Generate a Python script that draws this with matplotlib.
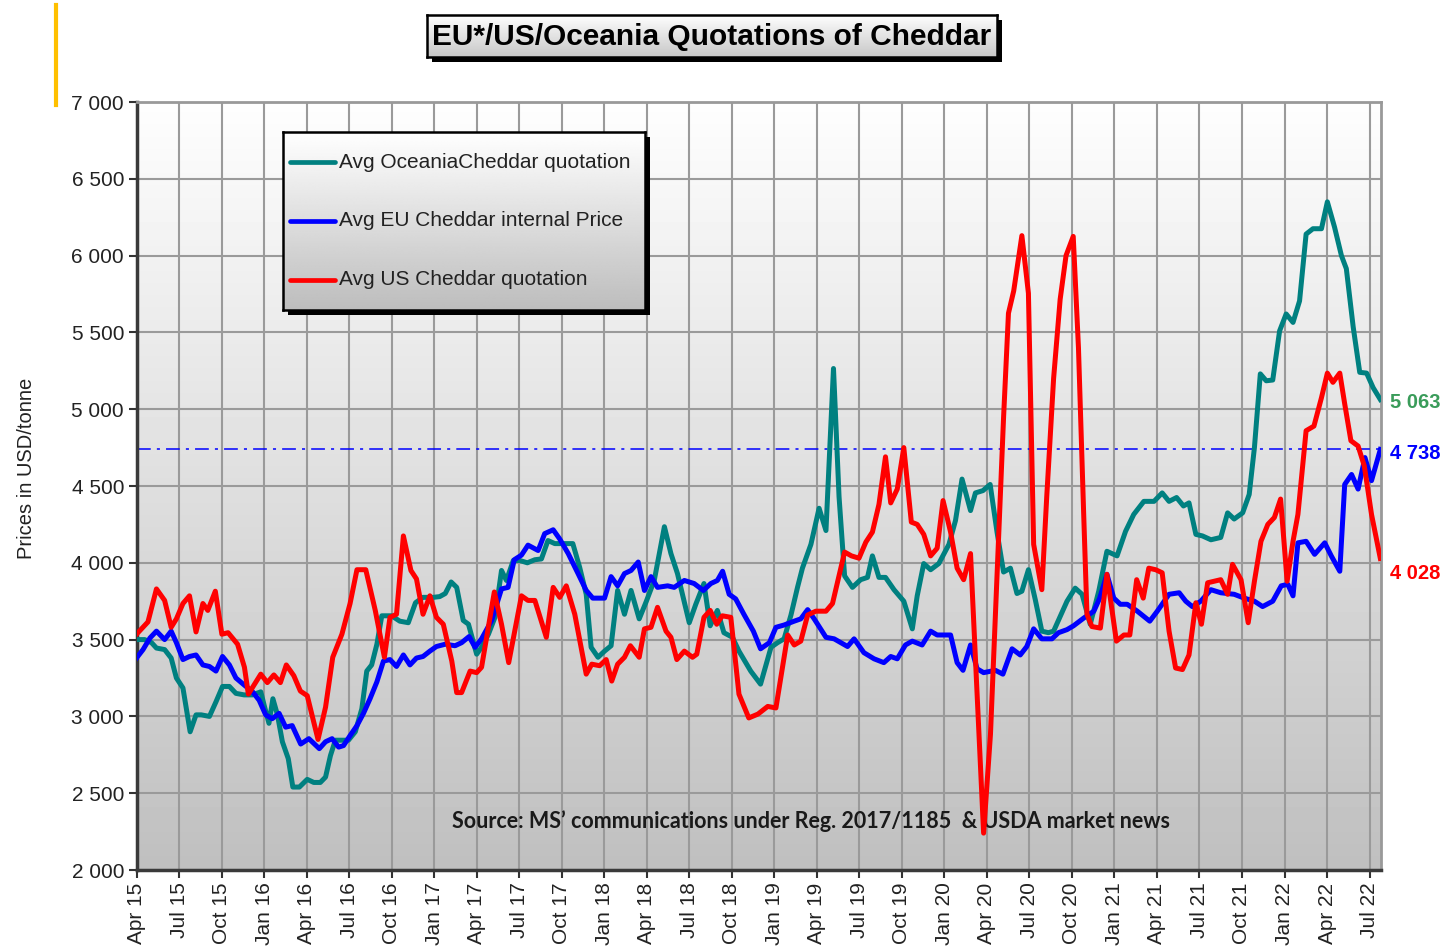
import numpy as np
import matplotlib.pyplot as plt
from matplotlib.patches import Rectangle
from matplotlib.lines import Line2D
from matplotlib.ticker import FuncFormatter, MultipleLocator

# x = week number, week 0 = start of Apr 2015 (13 weeks between the quarter ticks)
tick_labels = ['Apr 15', 'Jul 15', 'Oct 15', 'Jan 16', 'Apr 16', 'Jul 16', 'Oct 16', 'Jan 17',
               'Apr 17', 'Jul 17', 'Oct 17', 'Jan 18', 'Apr 18', 'Jul 18', 'Oct 18', 'Jan 19',
               'Apr 19', 'Jul 19', 'Oct 19', 'Jan 20', 'Apr 20', 'Jul 20', 'Oct 20', 'Jan 21',
               'Apr 21', 'Jul 21', 'Oct 21', 'Jan 22', 'Apr 22', 'Jul 22']
weeks_per_tick = 13
last_week = 380.5

# Avg Oceania Cheddar quotation (USD/t)
oceania = [(0, 3500), (2.5, 3500), (4.6, 3480), (6.1, 3445), (8.6, 3435), (10.6, 3380), (12.2, 3250),
           (14.2, 3185), (16.4, 2900), (18.2, 3010), (19.8, 3010), (22.3, 3000), (24.3, 3095), (26.3, 3195),
           (28.4, 3195), (30.4, 3150), (32.9, 3140), (35.5, 3140), (38, 3160), (39, 3075), (40.5, 2955),
           (41.7, 3115), (43.1, 3010), (44.6, 2835), (46.4, 2725), (47.8, 2540), (49.8, 2540), (52.2, 2590),
           (54.2, 2570), (56.2, 2570), (57.8, 2605), (59.3, 2745), (60.8, 2845), (62.8, 2845), (64.8, 2845),
           (66.9, 2900), (68.9, 3050), (70.4, 3295), (71.9, 3335), (73.5, 3470), (75, 3655), (78, 3655),
           (80.5, 3620), (83.1, 3610), (85.3, 3740), (87.6, 3775), (90.7, 3775), (92.7, 3780), (94.4, 3800),
           (96.2, 3875), (97.9, 3840), (99.9, 3625), (101.5, 3600), (104, 3405), (105.5, 3450), (107.6, 3535),
           (109.6, 3645), (111.6, 3950), (113.1, 3885), (115.2, 4015), (117.2, 4015), (119.5, 4000),
           (121.8, 4020), (123.8, 4025), (125.8, 4145), (127.9, 4125), (130.9, 4125), (133.4, 4125),
           (135.5, 3970), (137.5, 3795), (139, 3450), (141.1, 3385), (143.1, 3425), (145.1, 3460),
           (147.1, 3820), (149.2, 3665), (151.2, 3820), (153.7, 3635), (155.8, 3745), (158.3, 3885),
           (161.4, 4235), (163.4, 4060), (165.4, 3930), (169, 3610), (171, 3730), (173.5, 3865), (175.4, 3590),
           (177.6, 3690), (179.6, 3545), (182.2, 3515), (184.2, 3425), (187.8, 3295), (190.8, 3210),
           (194, 3450), (196, 3480), (198, 3505), (200.1, 3660), (202.1, 3840), (203.6, 3965), (206.2, 4120),
           (208.7, 4355), (210.8, 4210), (213.1, 5265), (214.8, 4430), (216.5, 3915), (218.9, 3840),
           (221.4, 3890), (223.5, 3905), (225, 4045), (227, 3905), (229, 3905), (231.6, 3825), (234.6, 3750),
           (237.2, 3570), (238.7, 3785), (240.7, 3995), (242.8, 3955), (245.3, 3995), (248.4, 4120),
           (250.4, 4275), (252.4, 4545), (255, 4340), (256.5, 4455), (258.8, 4470), (261, 4510), (263.1, 4200),
           (265.1, 3940), (267.2, 3965), (269.2, 3800), (270.7, 3815), (272.7, 3955), (274.8, 3760),
           (276.8, 3555), (278.8, 3545), (280.4, 3555), (282.4, 3650), (284.5, 3750), (287, 3835), (289.1, 3795),
           (291.6, 3600), (294.2, 3815), (296.7, 4075), (299.8, 4045), (302.4, 4205), (304.9, 4315), (308, 4400),
           (311.1, 4400), (313.6, 4455), (315.7, 4400), (318, 4425), (320.1, 4370), (321.8, 4390), (323.9, 4185),
           (325.9, 4175), (328.5, 4150), (331.5, 4165), (333.6, 4325), (335.6, 4285), (338.2, 4325),
           (340.2, 4445), (341.8, 4750), (343.6, 5230), (345.4, 5185), (347.4, 5190), (349.5, 5510),
           (351.5, 5620), (353.6, 5565), (355.6, 5705), (357.6, 6140), (359.7, 6175), (362.3, 6175),
           (364.1, 6350), (366.3, 6185), (368.4, 6000), (369.9, 5915), (372, 5535), (374, 5240), (376.1, 5235),
           (378.1, 5140), (380.3, 5063)]

# Avg EU Cheddar internal price (USD/t)
eu = [(0, 3380), (2, 3435), (4.1, 3510), (6.1, 3555), (8.6, 3500), (10.6, 3555), (12.2, 3480), (14.2, 3370),
      (16.2, 3390), (18.2, 3400), (20.3, 3335), (22.3, 3325), (24.3, 3295), (26.3, 3390), (28.4, 3335),
      (30.4, 3250), (32.9, 3205), (35.5, 3160), (37.5, 3105), (39.5, 3010), (41.5, 2985), (43.6, 3020),
      (45.6, 2930), (47.6, 2940), (50.2, 2820), (52.7, 2855), (55.9, 2790), (57.8, 2835), (59.8, 2855),
      (61.8, 2800), (63.3, 2810), (65.3, 2875), (67.4, 2940), (69.4, 3020), (71.4, 3115), (73.5, 3225),
      (75.5, 3360), (77.5, 3370), (79.5, 3325), (81.6, 3400), (83.6, 3335), (85.6, 3380), (87.6, 3390),
      (89.7, 3425), (91.7, 3455), (94.4, 3470), (97.4, 3460), (99.4, 3480), (101.7, 3520), (103.5, 3450),
      (105.5, 3505), (108.6, 3625), (111.6, 3830), (113.6, 3840), (115.5, 4020), (117.7, 4050), (119.7, 4115),
      (122.8, 4080), (124.8, 4190), (127.4, 4215), (129.4, 4155), (132, 4060), (135, 3930), (137.5, 3820),
      (139.5, 3770), (143.1, 3770), (145.1, 3910), (147.1, 3850), (149.2, 3930), (151.2, 3950), (153.4, 4005),
      (155.3, 3820), (157.3, 3910), (159.3, 3840), (162.4, 3850), (164.4, 3840), (167.5, 3885), (170.5, 3865),
      (173.3, 3820), (175.6, 3865), (177.6, 3885), (179.2, 3945), (181.2, 3795), (183.2, 3765), (185.7, 3665),
      (188.6, 3555), (190.8, 3440), (193.5, 3480), (195.5, 3580), (198, 3595), (201.1, 3620), (203.1, 3635),
      (205.2, 3695), (207.2, 3635), (210.8, 3515), (213.3, 3505), (217.4, 3455), (219.4, 3505), (222.4, 3415),
      (225.5, 3375), (228.5, 3350), (230.6, 3390), (232.6, 3375), (235.1, 3465), (237.2, 3490), (240.2, 3465),
      (242.8, 3555), (244.8, 3530), (248.9, 3530), (250.9, 3350), (252.7, 3300), (255, 3465), (257, 3310),
      (259, 3285), (262.6, 3300), (264.9, 3275), (267.7, 3440), (270.2, 3400), (272.2, 3455), (274.3, 3570),
      (276.8, 3505), (279.9, 3505), (281.9, 3545), (284.5, 3565), (286.5, 3590), (289.6, 3640), (292.7, 3685),
      (294.5, 3770), (296.7, 3925), (298.8, 3770), (300.8, 3730), (302.9, 3730), (306, 3685), (309.8, 3620),
      (312.1, 3685), (315.7, 3795), (318.8, 3805), (320.8, 3750), (322.8, 3715), (325.4, 3750), (328.5, 3825),
      (331.5, 3805), (335.6, 3795), (338.7, 3770), (341.8, 3750), (344.3, 3715), (347.4, 3750), (350, 3850),
      (352, 3860), (353.6, 3785), (355.1, 4130), (357.6, 4140), (360.2, 4055), (363.3, 4130), (365.3, 4045),
      (367.9, 3945), (369.4, 4510), (371.5, 4575), (373.5, 4480), (375.6, 4685), (377.6, 4535), (380.3, 4738)]

# Avg US Cheddar quotation (USD/t)
us = [(0, 3535), (3.5, 3615), (6.1, 3830), (8.6, 3755), (10.6, 3580), (12.2, 3635), (14.2, 3735), (16.2, 3785),
      (18.2, 3550), (20.3, 3735), (21.8, 3690), (24.1, 3815), (26.1, 3535), (28, 3545), (30.9, 3470),
      (33, 3320), (34.2, 3145), (38, 3275), (40, 3220), (42, 3270), (44, 3220), (45.8, 3335), (48.1, 3265),
      (50.1, 3165), (52.2, 3135), (55.5, 2850), (57.8, 3060), (60, 3385), (62.8, 3535), (65.3, 3735),
      (67.4, 3955), (70.1, 3955), (73, 3690), (75.8, 3385), (77.5, 3645), (79.5, 3665), (81.6, 4175),
      (83.9, 3950), (85.6, 3895), (87.6, 3665), (89.7, 3785), (91.7, 3645), (93.8, 3600), (96.4, 3360),
      (97.9, 3155), (99.4, 3155), (102, 3295), (104, 3285), (105.5, 3320), (109.4, 3810), (111.6, 3600),
      (113.8, 3350), (117.7, 3785), (119.7, 3755), (121.8, 3755), (125.3, 3515), (127.4, 3840), (129.4, 3775),
      (131.4, 3850), (134, 3665), (137.5, 3275), (139.2, 3340), (141.6, 3330), (143.6, 3370), (145.3, 3230),
      (147.1, 3340), (149.2, 3385), (151, 3460), (153.7, 3385), (155.3, 3570), (157.3, 3580), (159.3, 3710),
      (161.9, 3555), (163.4, 3515), (165.2, 3370), (167.5, 3425), (170, 3385), (171.3, 3405), (173.5, 3645),
      (175.4, 3690), (177.4, 3600), (179.1, 3655), (181.7, 3645), (184.2, 3145), (187.2, 2990), (190, 3015),
      (193, 3065), (195.5, 3055), (199.1, 3530), (201.1, 3465), (203.1, 3490), (205.2, 3660), (207.7, 3685),
      (210.8, 3685), (212.8, 3735), (214.8, 3915), (216.5, 4070), (218.6, 4045), (220.9, 4030), (223, 4135),
      (225, 4200), (227, 4380), (229, 4690), (230.6, 4390), (232.6, 4480), (234.6, 4750), (236.9, 4265),
      (238.7, 4250), (240.7, 4185), (242.8, 4045), (244.8, 4095), (246.6, 4405), (248.9, 4200), (250.9, 3965),
      (252.9, 3890), (255, 4060), (257, 3145), (259, 2240), (261.1, 2885), (263.1, 3915), (265.1, 4945),
      (266.6, 5625), (268.2, 5770), (270.7, 6130), (272.7, 5755), (274.3, 4120), (276.8, 3825), (278.3, 4430),
      (280.4, 5200), (282.4, 5715), (284.2, 6000), (286.4, 6125), (288, 5400), (289.6, 4315), (290.6, 3665),
      (292.1, 3585), (294.7, 3575), (296.7, 3925), (299.6, 3490), (301.9, 3530), (303.7, 3530), (305.8, 3890),
      (307.8, 3770), (309.5, 3965), (311.6, 3955), (313.6, 3935), (315.7, 3555), (317.7, 3315), (319.8, 3305),
      (321.8, 3400), (323.9, 3740), (325.6, 3600), (327.5, 3870), (329.5, 3880), (331.5, 3890), (333.6, 3795),
      (335.1, 3990), (337.7, 3890), (339.9, 3610), (341.8, 3880), (343.8, 4140), (345.9, 4250), (347.9, 4295),
      (349.8, 4415), (351.8, 3880), (353.6, 4140), (355.1, 4315), (357.6, 4860), (360, 4890), (362.3, 5075),
      (364.1, 5235), (365.8, 5175), (367.9, 5235), (369.4, 5035), (371.3, 4795), (373.5, 4760), (375.4, 4630),
      (377.6, 4315), (380.3, 4028)]

series_names = ['Avg OceaniaCheddar quotation', 'Avg EU Cheddar internal Price', 'Avg US Cheddar quotation']
series_colors = ['#008080', '#0000FF', '#FF0000']

W, H = 1451, 951


def px_rect(x0, y0, x1, y1):
    """pixel box (top-left origin) -> figure fraction [left, bottom, width, height]"""
    return [x0 / W, 1 - y1 / H, (x1 - x0) / W, (y1 - y0) / H]


def gradient_fill(a, top, bottom, extent):
    grad = np.linspace(top, bottom, 256).reshape(-1, 1)
    a.imshow(grad, cmap='gray', vmin=0, vmax=1, aspect='auto', extent=extent,
             origin='upper', zorder=-1, interpolation='bilinear')


def thousands(v, pos=None):
    return f'{int(v):,}'.replace(',', ' ')


plt.rcParams['font.family'] = ['Liberation Sans', 'DejaVu Sans']
fig = plt.figure(figsize=(W / 100, H / 100), dpi=100)
ax = fig.add_axes(px_rect(136.5, 102, 1381, 870))

gradient_fill(ax, 0.995, 0.75, [0, last_week, 2000, 7000])

for data, col in zip([oceania, eu, us], series_colors):
    wk, val = zip(*data)
    ax.plot(wk, val, color=col, lw=3.6, solid_joinstyle='round', zorder=3)

# reference line at the latest EU price
eu_last = eu[-1][1]
ax.axhline(eu_last, color='#0000FF', lw=1.1, ls=(0, (9, 4, 2, 4)), zorder=2)

ax.set_xlim(0, last_week)
ax.set_ylim(2000, 7000)
ax.set_xticks(np.arange(len(tick_labels)) * weeks_per_tick)
ax.set_xticklabels(tick_labels, rotation=90)
ax.yaxis.set_major_locator(MultipleLocator(500))
ax.yaxis.set_major_formatter(FuncFormatter(thousands))
ax.tick_params(axis='both', direction='out', length=6, width=1.5, color='#333333',
               labelsize=15, labelcolor='#222222', pad=3)
ax.grid(True, color='#9a9a9a', lw=1.5)
ax.set_axisbelow(True)
for side in ['left', 'bottom']:
    ax.spines[side].set_color('#3a3a3a')
    ax.spines[side].set_linewidth(2.5)
for side in ['top', 'right']:
    ax.spines[side].set_color('#999999')
    ax.spines[side].set_linewidth(2)

ax.set_ylabel('Prices in USD/tonne', fontsize=14.5, color='#222222')
ax.yaxis.set_label_coords(-0.081, 0.523)

# source note sits under the series lines
ax.text(0.542, 0.064, 'Source: MS\u2019 communications under Reg. 2017/1185  & USDA market news',
        transform=ax.transAxes, ha='center', va='center', fontsize=15.5, fontweight='bold',
        family=['Lato', 'DejaVu Sans'], color='#1a1a1a', zorder=2.5)

# latest values at the right edge
end_labels = [(oceania[-1][1], '#3a9c5a', -2), (eu_last, '#0000FF', -3), (us[-1][1], '#FF0000', -10.5)]
for val, col, dy in end_labels:
    ax.annotate(thousands(val), xy=(1.0, val), xycoords=('axes fraction', 'data'),
                xytext=(6.5, dy), textcoords='offset points', ha='left', va='center',
                fontsize=14.5, fontweight='bold', color=col, annotation_clip=False)

# title box with shadow
fig.patches.append(Rectangle((432 / W, 1 - 62 / H), 570 / W, 42 / H, transform=fig.transFigure,
                             facecolor='black', edgecolor='none', zorder=1))
tax = fig.add_axes(px_rect(427, 15, 997, 57))
tax.set_zorder(2)
gradient_fill(tax, 1.0, 0.78, [0, 1, 0, 1])
tax.set_xlim(0, 1)
tax.set_ylim(0, 1)
tax.set_xticks([])
tax.set_yticks([])
for s in tax.spines.values():
    s.set_linewidth(1.8)
    s.set_color('black')
tax.text(0.5, 0.47, 'EU*/US/Oceania Quotations of Cheddar', ha='center', va='center',
         fontsize=21.5, fontweight='bold', family=['Liberation Sans Narrow', 'Liberation Sans'],
         color='black')

# legend box with shadow
fig.patches.append(Rectangle((288 / W, 1 - 315 / H), 362 / W, 178 / H, transform=fig.transFigure,
                             facecolor='black', edgecolor='none', zorder=1))
lax = fig.add_axes(px_rect(283, 132, 645, 310))
lax.set_zorder(2)
gradient_fill(lax, 1.0, 0.74, [0, 1, 0, 1])
lax.set_xlim(0, 1)
lax.set_ylim(0, 1)
lax.set_xticks([])
lax.set_yticks([])
for s in lax.spines.values():
    s.set_linewidth(1.8)
    s.set_color('black')
for i, (name, col) in enumerate(zip(series_names, series_colors)):
    yy = 0.831 - i * 0.331
    lax.add_line(Line2D([0.019, 0.144], [yy, yy], color=col, lw=3.4, solid_capstyle='round'))
    lax.text(0.155, yy, name, ha='left', va='center', fontsize=15, color='#222222')

# orange accent bar at top left
fig.add_artist(Line2D([56 / W, 56 / W], [1 - 5 / H, 1 - 105 / H], transform=fig.transFigure,
                      color='#FFC000', lw=3))

fig.savefig('out.png', dpi=100)
